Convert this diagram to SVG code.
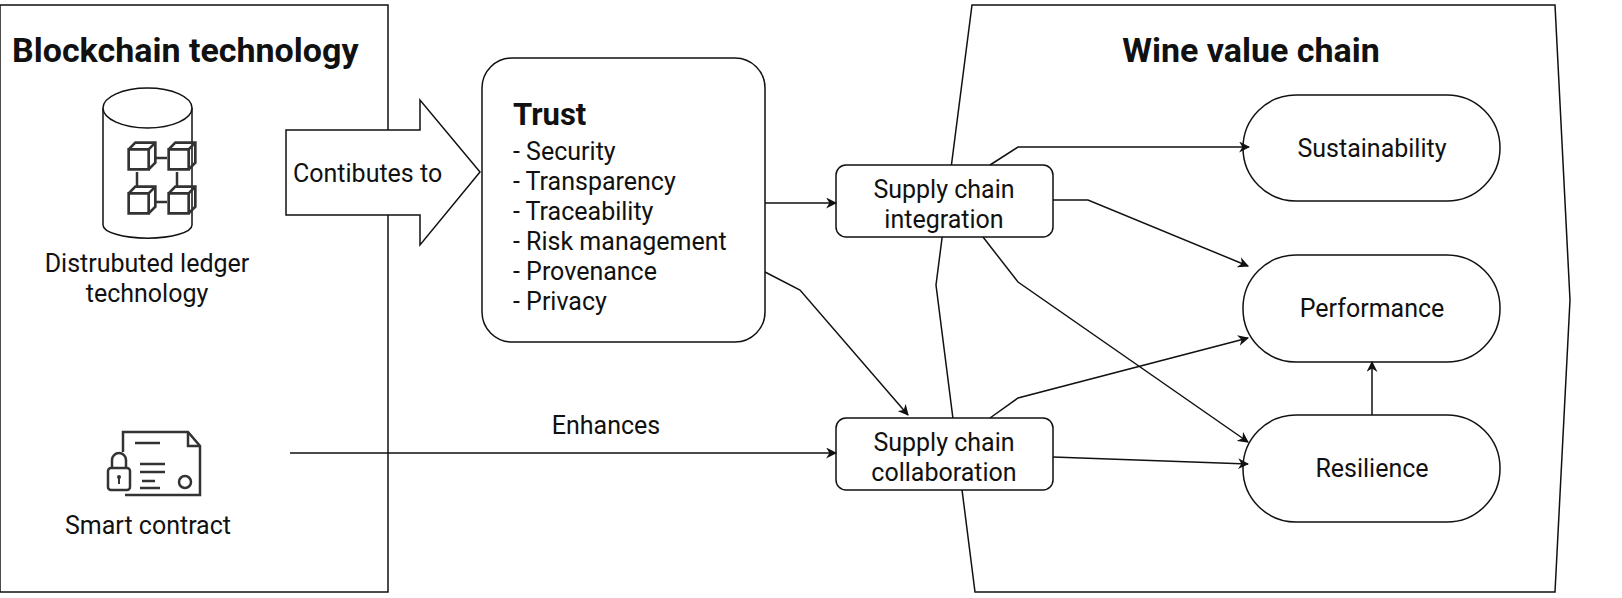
<svg xmlns="http://www.w3.org/2000/svg" width="1622" height="598" viewBox="0 0 1622 598">
<defs>
<style>
text{font-family:Roboto,"Liberation Sans",Arial,sans-serif;fill:#111}
.n{fill:#fff;stroke:#111;stroke-width:1.5}
.c{fill:none;stroke:#111;stroke-width:1.5}
.ic{fill:none;stroke:#333;stroke-width:2.5}
.t{font-size:25px}
.h{font-size:34px;font-weight:bold}
</style>
<marker id="a" viewBox="0 0 10 10" refX="9" refY="5" markerWidth="11" markerHeight="11" markerUnits="userSpaceOnUse" orient="auto"><path d="M0,0 L10,5 L0,10 L3,5 Z" fill="#111"/></marker>
<symbol id="cube" viewBox="0 0 24 24"><path d="M2,7 H17 V22 H2 Z M2,7 L7,2 H22 V17 L17,22 M17,7 L22,2" fill="none" stroke="#333" stroke-width="2"/></symbol>
</defs>
<g id="blockchain">
<rect class="n" x="0" y="5" width="388" height="587"/>
<text class="h" x="12" y="62">Blockchain technology</text>
</g>
<g id="wine">
<path class="n" d="M972,5 H1555 L1570,300 L1555,592 H975 L936,285 Z"/>
<text class="h" x="1251" y="62" text-anchor="middle">Wine value chain</text>
</g>
<g id="ledger">
<path class="n" d="M103,108 V225 A44,13 0 0 0 192,225 V108"/>
<ellipse class="n" cx="147.5" cy="108" rx="44.5" ry="20"/>
<use href="#cube" x="126" y="140" width="32" height="32"/>
<use href="#cube" x="166" y="140" width="32" height="32"/>
<use href="#cube" x="126" y="184" width="32" height="32"/>
<use href="#cube" x="166" y="184" width="32" height="32"/>
<path class="ic" d="M154,158 H167 M154,202 H167 M137,172 V186 M177,172 V186" stroke-width="2"/>
<text class="t" x="147" y="272" text-anchor="middle">Distrubuted ledger</text>
<text class="t" x="147" y="302" text-anchor="middle">technology</text>
</g>
<g id="smart">
<path class="ic" d="M123,452 V432 H188 L200,446 V495 H125" stroke-width="2.3"/>
<path class="ic" d="M188,432 V446 H200 M135,443 H160 M140,464 H165 M140,472 H165 M142,481 H155 M140,488 H160" stroke-width="2.3"/>
<path class="ic" d="M112,468 V460 A7,7 0 0 1 126,460 V468" stroke-width="2.3"/>
<rect class="ic" x="108" y="468" width="22" height="22" rx="3" stroke-width="2.3"/>
<circle cx="119" cy="477" r="2" fill="#333"/><path d="M119,477 V484" stroke="#333" stroke-width="2"/>
<circle class="ic" cx="185" cy="482" r="6" stroke-width="2.3"/>
<text class="t" x="148" y="534" text-anchor="middle">Smart contract</text>
</g>
<g id="contributes">
<path class="n" d="M286,130 H420 V100 L480,172 L420,245 V215 H286 Z"/>
<text class="t" x="293" y="182">Contibutes to</text>
</g>
<g id="trust">
<rect class="n" x="482" y="58" width="283" height="284" rx="30"/>
<text class="h" x="513" y="125" style="font-size:31px">Trust</text>
<text class="t" x="513" y="160">- Security</text>
<text class="t" x="513" y="190">- Transparency</text>
<text class="t" x="513" y="220">- Traceability</text>
<text class="t" x="513" y="250">- Risk management</text>
<text class="t" x="513" y="280">- Provenance</text>
<text class="t" x="513" y="310">- Privacy</text>
</g>
<g id="integration">
<rect class="n" x="836" y="165" width="217" height="72" rx="10"/>
<text class="t" x="944" y="198" text-anchor="middle">Supply chain</text>
<text class="t" x="944" y="228" text-anchor="middle">integration</text>
</g>
<g id="collaboration">
<rect class="n" x="836" y="418" width="217" height="72" rx="10"/>
<text class="t" x="944" y="451" text-anchor="middle">Supply chain</text>
<text class="t" x="944" y="481" text-anchor="middle">collaboration</text>
</g>
<g id="sustainability">
<rect class="n" x="1243" y="95" width="257" height="106" rx="53"/>
<text class="t" x="1372" y="157" text-anchor="middle">Sustainability</text>
</g>
<g id="performance">
<rect class="n" x="1243" y="255" width="257" height="107" rx="53"/>
<text class="t" x="1372" y="317" text-anchor="middle">Performance</text>
</g>
<g id="resilience">
<rect class="n" x="1243" y="415" width="257" height="107" rx="53"/>
<text class="t" x="1372" y="477" text-anchor="middle">Resilience</text>
</g>
<g id="connectors">
<path class="c" marker-end="url(#a)" d="M765,203 H836"/>
<path class="c" marker-end="url(#a)" d="M765,272 L800,290 L908,415"/>
<path class="c" marker-end="url(#a)" d="M290,453 H836"/>
<text class="t" x="606" y="434" text-anchor="middle">Enhances</text>
<path class="c" marker-end="url(#a)" d="M990,165 L1018,147 H1249"/>
<path class="c" marker-end="url(#a)" d="M1053,200 H1088 L1248,266"/>
<path class="c" marker-end="url(#a)" d="M983,237 L1018,282 L1248,442"/>
<path class="c" marker-end="url(#a)" d="M990,418 L1018,398 L1248,338"/>
<path class="c" marker-end="url(#a)" d="M1053,457 L1248,464"/>
<path class="c" marker-end="url(#a)" d="M1372,415 V362"/>
</g>
</svg>
